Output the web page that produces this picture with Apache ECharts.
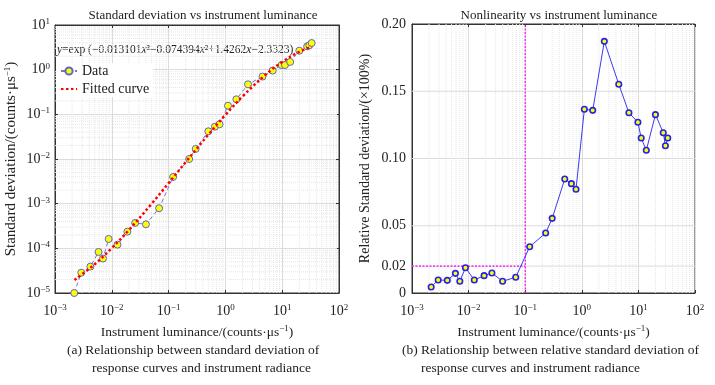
<!DOCTYPE html>
<html><head><meta charset="utf-8">
<script src="https://cdn.jsdelivr.net/npm/echarts@6/dist/echarts.min.js"></script>
<style>html,body{margin:0;padding:0;background:#fff}#c{width:715px;height:385px}</style>
</head><body><div id="c"></div>
<script>
// ---- data ----
const lum = [0.00218, 0.0029, 0.0042, 0.00585, 0.007, 0.0088, 0.0126, 0.0188, 0.0258, 0.0399, 0.068, 0.12, 0.23, 0.30, 0.50, 0.655, 0.79, 1.11, 1.56, 2.5, 4.5, 6.8, 9.8, 11.2, 13.8, 20, 27.5, 30, 33];
const stdDev = [1.0e-5, 2.85e-5, 3.9e-5, 8.3e-5, 5.9e-5, 1.62e-4, 1.21e-4, 2.36e-4, 3.7e-4, 3.45e-4, 7.9e-4, 3.96e-3, 0.0100, 0.0168, 0.0417, 0.053, 0.060, 0.156, 0.217, 0.47, 0.70, 0.955, 1.27, 1.27, 1.49, 2.66, 3.33, 3.51, 3.95];
const relStd = [0.0045, 0.0097, 0.0094, 0.0146, 0.0087, 0.0188, 0.0097, 0.0129, 0.0149, 0.0087, 0.0117, 0.0344, 0.0446, 0.0555, 0.0848, 0.0813, 0.0771, 0.1366, 0.1358, 0.1871, 0.1552, 0.134, 0.127, 0.1152, 0.1061, 0.1326, 0.1192, 0.1095, 0.1152];
const fitLum = [0.0022, 0.005, 0.01, 0.02, 0.05, 0.1, 0.2, 0.5, 1, 2, 5, 10, 20, 33];
const fitStd = [1.95e-5, 4.41e-5, 1.012e-4, 2.572e-4, 9.877e-4, 2.878e-3, 8.517e-3, 0.03501, 0.09708, 0.2506, 0.7526, 1.488, 2.510, 3.270];
const relTicks = [0, 0.02, 0.05, 0.10, 0.15, 0.20];
const relTickLabels = ['0', '0.02', '0.05', '0.10', '0.15', '0.20'];
const threshLum = 0.1;
const threshRel = 0.02;

const FONT = 'Liberation Serif';
const chart = echarts.init(document.getElementById('c'));

function minors(k0, k1) {
  const out = [];
  for (let k = k0; k <= k1; k++) for (let m = 2; m <= 9; m++) out.push(m * Math.pow(10, k));
  return out;
}
function vGrid(idx, vals, ymin, ymax, style, z) {
  return { type: 'custom', xAxisIndex: idx, yAxisIndex: idx, silent: true, z: z || 1,
    data: vals.map(v => [v, ymin]),
    renderItem: (p, api) => {
      const a = api.coord([api.value(0), ymin]), b = api.coord([api.value(0), ymax]);
      return { type: 'line', shape: { x1: a[0], y1: a[1], x2: b[0], y2: b[1] }, style: style };
    } };
}
function hGrid(idx, vals, xmin, xmax, style, z) {
  return { type: 'custom', xAxisIndex: idx, yAxisIndex: idx, silent: true, z: z || 1,
    data: vals.map(v => [xmin, v]),
    renderItem: (p, api) => {
      const a = api.coord([xmin, api.value(1)]), b = api.coord([xmax, api.value(1)]);
      return { type: 'line', shape: { x1: a[0], y1: a[1], x2: b[0], y2: b[1] }, style: style };
    } };
}
const minorStyle = { stroke: '#e6e6e6', lineWidth: 1, lineDash: [1, 1] };
const majorLine = { show: true, lineStyle: { color: '#dcdcdc', width: 1 } };
const magenta = { stroke: '#ff00ff', lineWidth: 1.2, lineDash: [2, 1.5] };
const powRich = { b: { fontFamily: FONT, fontSize: 14, color: '#222' }, s: { fontFamily: FONT, fontSize: 9, color: '#222', verticalAlign: 'top', padding: [0, 0, 7, 0] } };
function powFmt(v) {
  const e = Math.round(Math.log10(v));
  return '{b|10}{s|' + (e < 0 ? '\u2212' + (-e) : e) + '}';
}
function nameRich(fs) {
  return { n: { fontFamily: FONT, fontSize: fs, color: '#222' }, s: { fontFamily: FONT, fontSize: 9, color: '#222', verticalAlign: 'top', padding: [0, 0, 7, 0] } };
}
const lumName = '{n|Instrument luminance/(counts\u00b7\u03bcs}{s|\u22121}{n|)}';

function logX(idx) {
  return { type: 'log', logBase: 10, gridIndex: idx, min: 0.001, max: 100,
    axisLine: { show: true, lineStyle: { color: '#333' } },
    axisTick: { show: true, inside: true, length: 3, lineStyle: { color: '#333' } },
    axisLabel: { formatter: powFmt, rich: powRich, margin: 10 },
    splitLine: majorLine,
    name: lumName, nameLocation: 'middle', nameGap: 31, nameTextStyle: { rich: nameRich(13.5) } };
}
function topX(idx) {
  return { type: 'log', logBase: 10, gridIndex: idx, min: 0.001, max: 100, position: 'top',
    axisLine: { show: true, lineStyle: { color: '#333' } },
    axisTick: { show: true, inside: true, length: 3, lineStyle: { color: '#333' } },
    axisLabel: { show: false }, splitLine: { show: false } };
}

const option = {
  animation: false,
  title: [
    { text: 'Standard deviation vs instrument luminance', left: 198, textAlign: 'center', top: 4,
      textStyle: { fontFamily: FONT, fontSize: 13, fontWeight: 'normal', color: '#222' } },
    { text: 'Nonlinearity vs instrument luminance', left: 554, textAlign: 'center', top: 4,
      textStyle: { fontFamily: FONT, fontSize: 13, fontWeight: 'normal', color: '#222' } }
  ],
  grid: [
    { left: 55, top: 25, width: 284, height: 268, show: true, borderColor: '#333', borderWidth: 1, backgroundColor: 'transparent' },
    { left: 412, top: 24, width: 283, height: 269, show: true, borderColor: '#333', borderWidth: 1, backgroundColor: 'transparent' }
  ],
  xAxis: [logX(0), logX(1), topX(0), topX(1)],
  yAxis: [
    { type: 'log', logBase: 10, gridIndex: 0, min: 1e-5, max: 10,
      axisLine: { show: true, lineStyle: { color: '#333' } },
      axisTick: { show: true, inside: true, length: 3, lineStyle: { color: '#333' } },
      axisLabel: { formatter: powFmt, rich: powRich, margin: 5 },
      splitLine: majorLine,
      name: '{n|Standard deviation/(counts\u00b7\u03bcs}{s|\u22121}{n|)}', nameLocation: 'middle', nameGap: 36,
      nameTextStyle: { rich: nameRich(15) } },
    { type: 'value', gridIndex: 1, min: 0, max: 0.2, interval: 0.01,
      axisLine: { show: true, lineStyle: { color: '#333' } },
      axisTick: { show: false },
      axisLabel: { fontFamily: FONT, fontSize: 14, color: '#222', margin: 6,
        formatter: v => { const i = relTicks.findIndex(t => Math.abs(t - v) < 1e-9); return i >= 0 ? relTickLabels[i] : ''; } },
      splitLine: { show: false },
      name: 'Relative Standard deviation/(\u00d7100%)', nameLocation: 'middle', nameGap: 40,
      nameTextStyle: { fontFamily: FONT, fontSize: 14, color: '#222' } },
    { type: 'log', logBase: 10, gridIndex: 0, min: 1e-5, max: 10, position: 'right',
      axisLine: { show: true, lineStyle: { color: '#333' } },
      axisTick: { show: true, inside: true, length: 3, lineStyle: { color: '#333' } },
      axisLabel: { show: false }, splitLine: { show: false } }
  ],
  legend: {
    data: [{ name: 'Data' }, { name: 'Fitted curve', itemStyle: { opacity: 0 } }],
    orient: 'vertical', left: 56, top: 63, itemGap: 4,
    itemWidth: 16, itemHeight: 9, backgroundColor: '#fff', padding: [1, 4],
    textStyle: { fontFamily: FONT, fontSize: 14, color: '#222' }
  },
  graphic: [
    { type: 'text', left: 57, top: 44, z: 1,
      style: { text: '{i|y}=exp (\u22120.013101{i|x}\u00b3\u22120.074394{i|x}\u00b2+1.4262{i|x}\u22122.3323)',
        fontFamily: FONT, fontSize: 11.5, fill: '#222',
        rich: { i: { fontFamily: FONT, fontSize: 11.5, fontStyle: 'italic', fill: '#222' } } } },
    { type: 'text', left: 67, top: 343,
      style: { text: '(a) Relationship between standard deviation of', fontFamily: FONT, fontSize: 13.5, fill: '#222' } },
    { type: 'text', left: 92, top: 361,
      style: { text: 'response curves and instrument radiance', fontFamily: FONT, fontSize: 13.5, fill: '#222' } },
    { type: 'text', left: 402, top: 343,
      style: { text: '(b) Relationship between relative standard deviation of', fontFamily: FONT, fontSize: 13.5, fill: '#222' } },
    { type: 'text', left: 421, top: 361,
      style: { text: 'response curves and instrument radiance', fontFamily: FONT, fontSize: 13.5, fill: '#222' } }
  ],
  series: [
    vGrid(0, minors(-3, 1), 1e-5, 10, minorStyle),
    hGrid(0, minors(-5, 0), 0.001, 100, minorStyle),
    vGrid(1, minors(-3, 1), 0, 0.2, minorStyle),
    hGrid(1, relTicks.slice(1, 5), 0.001, 100, { stroke: '#dcdcdc', lineWidth: 1 }),
    hGrid(1, [threshRel], 0.001, threshLum, magenta, 2),
    vGrid(1, [threshLum], 0, 0.2, magenta, 2),
    { name: 'Data', type: 'line', xAxisIndex: 0, yAxisIndex: 0, z: 3,
      data: lum.map((x, i) => [x, stdDev[i]]),
      symbol: 'circle', symbolSize: 7,
      itemStyle: { color: '#ffff00', borderColor: '#5a66c8', borderWidth: 1 },
      lineStyle: { color: '#6b78cc', width: 1, type: [4, 3] } },
    { name: 'Fitted curve', type: 'line', xAxisIndex: 0, yAxisIndex: 0, z: 4,
      data: fitLum.map((x, i) => [x, fitStd[i]]), smooth: 0.4,
      symbol: 'none', itemStyle: { color: '#ff0000' },
      lineStyle: { color: '#ff0000', width: 2.5, type: [2.5, 2.5] } },
    { name: 'Relative', type: 'line', xAxisIndex: 1, yAxisIndex: 1, z: 3,
      data: lum.map((x, i) => [x, relStd[i]]),
      symbol: 'circle', symbolSize: 5.5,
      itemStyle: { color: '#ffff00', borderColor: '#2222ee', borderWidth: 1.6 },
      lineStyle: { color: '#3a3af0', width: 1 } }
  ]
};
chart.setOption(option);
</script></body></html>
